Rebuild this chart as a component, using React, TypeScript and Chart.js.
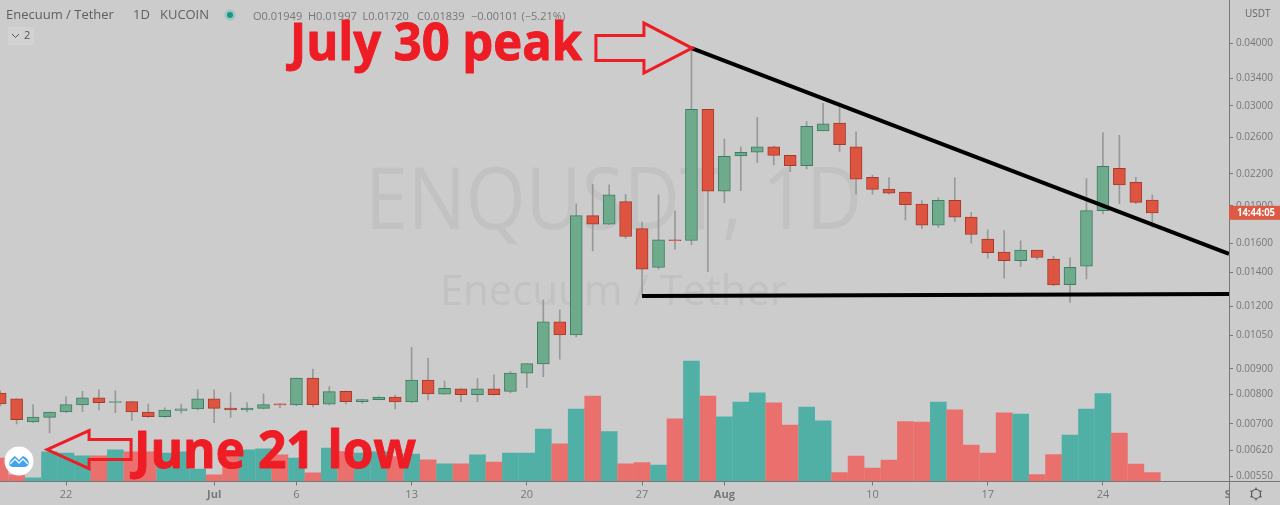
import React, { useEffect, useRef } from "react";
import { Chart, registerables } from "chart.js";

Chart.register(...registerables);

// One entry per day, Jun 18 → Aug 24+; index 0 = Jun 18
const opens = [
  0.00806, 0.00785, 0.00706, 0.00721, 0.00739, 0.00763, 0.00788, 0.00772, 0.00775, 0.00739, 0.00723, 0.00744,
  0.00749, 0.00785, 0.00752, 0.00746, 0.00751, 0.00767, 0.00763, 0.00863, 0.00766, 0.00812, 0.00775, 0.00782,
  0.00791, 0.00774, 0.00855, 0.00802, 0.00822, 0.008, 0.00822, 0.00812, 0.00883, 0.00921, 0.01117, 0.01052,
  0.01816, 0.01745, 0.01936, 0.01711, 0.01432, 0.01625, 0.0162, 0.02955, 0.0203, 0.02385, 0.02427, 0.02489,
  0.02393, 0.02282, 0.02675, 0.02773, 0.02489, 0.02164, 0.02051, 0.02021, 0.01913, 0.01737, 0.01948, 0.01803,
  0.0163, 0.01536, 0.01478, 0.0155, 0.01488, 0.01324, 0.01441, 0.01858, 0.02255, 0.02114, 0.01949,
];
const highs = [
  0.00814, 0.00785, 0.00764, 0.00739, 0.00793, 0.00812, 0.00818, 0.00814, 0.00775, 0.00766, 0.00753, 0.00766,
  0.00818, 0.00818, 0.00808, 0.00771, 0.00803, 0.00767, 0.00863, 0.00899, 0.0083, 0.00814, 0.00782, 0.00792,
  0.00798, 0.00994, 0.00945, 0.00851, 0.00822, 0.00861, 0.00876, 0.00889, 0.00922, 0.01235, 0.01179, 0.01916,
  0.02096, 0.0209, 0.02002, 0.01762, 0.01996, 0.01855, 0.03906, 0.02955, 0.0258, 0.02489, 0.02848, 0.02497,
  0.02393, 0.02791, 0.03037, 0.02976, 0.02663, 0.02187, 0.02158, 0.02021, 0.01945, 0.01969, 0.02158, 0.01842,
  0.01701, 0.01696, 0.01618, 0.0155, 0.01507, 0.01497, 0.02152, 0.02655, 0.02623, 0.02164, 0.01997,
];
const lows = [
  0.0076, 0.007, 0.00704, 0.00671, 0.00737, 0.0074, 0.00746, 0.00737, 0.00711, 0.00721, 0.00721, 0.00735,
  0.00746, 0.00704, 0.00721, 0.00739, 0.00749, 0.00754, 0.0076, 0.00756, 0.00763, 0.00767, 0.00769, 0.00781,
  0.00749, 0.00771, 0.00781, 0.00802, 0.00775, 0.00775, 0.00798, 0.00806, 0.00827, 0.00869, 0.00941, 0.01042,
  0.01545, 0.01741, 0.01636, 0.01263, 0.01421, 0.01557, 0.01587, 0.01405, 0.01927, 0.02036, 0.02314, 0.0229,
  0.02221, 0.02248, 0.02675, 0.02436, 0.02005, 0.02002, 0.02002, 0.0178, 0.01711, 0.01721, 0.01766, 0.016,
  0.01495, 0.01364, 0.01438, 0.01485, 0.01318, 0.0122, 0.01359, 0.01829, 0.01917, 0.01917, 0.0172,
];
const closes = [
  0.00767, 0.00713, 0.00722, 0.00739, 0.00764, 0.00788, 0.00771, 0.00775, 0.00739, 0.00723, 0.00745, 0.0075,
  0.00785, 0.00751, 0.00746, 0.00752, 0.00764, 0.00763, 0.00863, 0.00764, 0.00811, 0.00775, 0.00782, 0.00791,
  0.00774, 0.00855, 0.00803, 0.00823, 0.008, 0.00822, 0.008, 0.00883, 0.00922, 0.01117, 0.01052, 0.01816,
  0.01745, 0.01996, 0.0165, 0.01421, 0.01625, 0.01618, 0.02955, 0.0203, 0.02382, 0.02427, 0.02489, 0.02393,
  0.02282, 0.02733, 0.02765, 0.02512, 0.02145, 0.02048, 0.02013, 0.01909, 0.01737, 0.01948, 0.01803, 0.01665,
  0.01533, 0.01478, 0.0155, 0.01499, 0.01322, 0.01433, 0.01858, 0.02276, 0.0209, 0.01929, 0.01839,
];
const volumes = [
  23.3, 6.7, 3.7, 29.7, 28.3, 25.7, 25.7, 31.7, 29.7, 29.7, 28.3, 29.7,
  12.3, 6.7, 25, 31.7, 32.7, 26.7, 23.3, 8.7, 33.3, 30, 28.3, 29.7,
  25, 27.3, 21.7, 17.7, 17.7, 26.7, 19.3, 28.3, 28.3, 52.3, 37.7, 72.3,
  85.3, 50, 17.7, 19, 16.3, 62.7, 120.3, 85.3, 64.7, 79.3, 88.7, 78.7,
  56.3, 74.3, 60.7, 9, 25.3, 13.3, 21.3, 60, 59.3, 79.3, 71.7, 36.3,
  28.3, 68.7, 67.3, 7, 27, 46.3, 72.3, 88, 48.3, 17.3, 9,
];
const volumeUp = [
  0, 0, 1, 1, 1, 1, 0, 1, 0, 0, 1, 1,
  1, 0, 0, 1, 1, 0, 1, 0, 1, 0, 1, 1,
  0, 1, 0, 1, 0, 1, 0, 1, 1, 1, 0, 1,
  0, 1, 0, 0, 1, 0, 1, 0, 1, 1, 1, 0,
  0, 1, 1, 0, 0, 0, 0, 0, 0, 1, 0, 0,
  0, 0, 1, 0, 0, 1, 1, 1, 0, 0, 0,
];

const xTickDays = [4, 13, 18, 25, 32, 39, 44, 53, 60, 67];
const xTickLabels = ["22", "Jul", "6", "13", "20", "27", "Aug", "10", "17", "24"];
const yTicks = [0.04, 0.034, 0.03, 0.026, 0.022, 0.019, 0.016, 0.014, 0.012, 0.0105, 0.009, 0.008, 0.007, 0.0062, 0.0055];
const ohlcLabels = ["O0.01949", "H0.01997", "L0.01720", "C0.01839", "−0.00101", "(−5.21%)"];

const resistance = [{ x: 42, y: 0.0391 }, { x: 74.66, y: 0.01524 }];
const support = [{ x: 39, y: 0.01257 }, { x: 74.66, y: 0.01268 }];
const peakAnchor = { x: 42.03, y: 0.0391 };
const lowAnchor = { x: 2.85, y: 0.00622 };

const BG = "#cccccc";
const AXIS = "#777777";
const FONT = '"Open Sans", sans-serif';
const RED = "#ee1c25";

const overlay = {
  id: "overlay",
  beforeDatasetsDraw(chart: any) {
    const c = chart.ctx;
    c.save();
    c.fillStyle = "#c2c2c2";
    c.textBaseline = "alphabetic";
    c.textAlign = "left";
    c.font = `86px ${FONT}`;
    c.fillText("ENQUSDT, 1D", 365, 229, 497);
    c.font = `42px ${FONT}`;
    c.fillText("Enecuum / Tether", 440, 305, 347);
    c.restore();
  },
  afterDraw(chart: any) {
    const c = chart.ctx;
    const sx = chart.scales.x;
    const sy = chart.scales.y;
    c.save();
    // full-length axis lines
    c.strokeStyle = AXIS;
    c.lineWidth = 1;
    c.beginPath();
    c.moveTo(1229.5, 0);
    c.lineTo(1229.5, 505);
    c.moveTo(0, 481.5);
    c.lineTo(1280, 481.5);
    c.stroke();

    // clipped next-month label
    c.save();
    c.beginPath();
    c.rect(1200, 482, 29, 23);
    c.clip();
    c.fillStyle = AXIS;
    c.font = `bold 11px ${FONT}`;
    c.textAlign = "center";
    c.textBaseline = "middle";
    c.fillText("Sep", sx.getPixelForValue(75), 495);
    c.restore();

    // current price tag
    const tagY = sy.getPixelForValue(closes[closes.length - 1]);
    c.fillStyle = "#dd5a44";
    c.fillRect(1229, tagY - 7, 51, 14);
    c.fillStyle = "#ffffff";
    c.font = `bold 10.5px ${FONT}`;
    c.textAlign = "left";
    c.textBaseline = "middle";
    c.fillText("14:44:05", 1237, tagY, 38);

    // header
    c.fillStyle = "#5f5f5f";
    c.textBaseline = "middle";
    c.font = `13px ${FONT}`;
    c.fillText("Enecuum / Tether", 6, 15.5, 115);
    c.fillText("1D", 133, 15.5);
    c.fillText("KUCOIN", 160, 15.5, 49);
    c.fillStyle = "rgba(40,170,150,0.25)";
    c.beginPath();
    c.arc(230, 15, 5.5, 0, Math.PI * 2);
    c.fill();
    c.fillStyle = "#129a86";
    c.beginPath();
    c.arc(230, 15, 3, 0, Math.PI * 2);
    c.fill();
    c.fillStyle = "#777777";
    c.font = `11px ${FONT}`;
    const ohlcX = [253, 308, 362.5, 417, 471, 521.5];
    ohlcLabels.forEach((t, i) => c.fillText(t, ohlcX[i], 16.5, i === 5 ? 44 : 50));

    // collapse button
    c.fillStyle = "#d2d2d2";
    c.fillRect(8, 27, 26, 18);
    c.strokeStyle = "#555555";
    c.lineWidth = 1;
    c.beginPath();
    c.moveTo(12, 34);
    c.lineTo(15.5, 37.5);
    c.lineTo(19, 34);
    c.stroke();
    c.fillStyle = "#555555";
    c.font = `11px ${FONT}`;
    c.fillText("2", 24, 36);

    // USDT
    c.fillStyle = "#666666";
    c.font = `10px ${FONT}`;
    c.fillText("USDT", 1245, 14);

    // annotation arrows
    const arrow = (pts: number[][], ox: number, oy: number) => {
      c.strokeStyle = RED;
      c.lineWidth = 3;
      c.lineJoin = "miter";
      c.beginPath();
      pts.forEach(([a, b], i) => (i ? c.lineTo(ox + a, oy + b) : c.moveTo(ox + a, oy + b)));
      c.closePath();
      c.stroke();
    };
    const px = sx.getPixelForValue(peakAnchor.x);
    const py = sy.getPixelForValue(peakAnchor.y);
    arrow([[0, 0], [-48, 25], [-48, 12.5], [-96, 12.5], [-96, -12.5], [-48, -12.5], [-48, -25]], px, py);
    const lx = sx.getPixelForValue(lowAnchor.x);
    const ly = sy.getPixelForValue(lowAnchor.y);
    arrow([[0, 0], [42, -19], [42, -10], [84, -10], [84, 10], [42, 10], [42, 19]], lx, ly);

    // annotation text
    c.fillStyle = RED;
    c.strokeStyle = RED;
    c.lineWidth = 1;
    c.lineJoin = "round";
    c.textAlign = "left";
    c.textBaseline = "alphabetic";
    c.font = `bold 52px ${FONT}`;
    c.fillText("July 30 peak", 290, 60, 292);
    c.strokeText("July 30 peak", 290, 60, 292);
    c.fillText("June 21 low", 134, 468, 282);
    c.strokeText("June 21 low", 134, 468, 282);

    // logo
    c.fillStyle = "#ffffff";
    c.beginPath();
    c.arc(19, 461, 14.5, 0, Math.PI * 2);
    c.fill();
    c.fillStyle = "#3fa4ec";
    c.beginPath();
    c.moveTo(9, 464);
    c.quadraticCurveTo(10, 459, 15, 456);
    c.lineTo(19, 460);
    c.lineTo(23, 456);
    c.quadraticCurveTo(28, 458, 29, 463);
    c.quadraticCurveTo(28, 467, 24, 467);
    c.lineTo(13, 467);
    c.quadraticCurveTo(10, 467, 9, 464);
    c.fill();
    c.strokeStyle = "#ffffff";
    c.lineWidth = 1.3;
    c.beginPath();
    c.moveTo(10, 464);
    c.lineTo(15, 459);
    c.lineTo(19, 463);
    c.lineTo(23, 459);
    c.lineTo(28, 464);
    c.stroke();

    // gear
    c.strokeStyle = "#555555";
    c.lineWidth = 1.2;
    c.beginPath();
    c.arc(1256, 494, 4.5, 0, Math.PI * 2);
    c.stroke();
    for (let i = 0; i < 6; i++) {
      const a = (i * Math.PI) / 3 + Math.PI / 6;
      c.beginPath();
      c.moveTo(1256 + Math.cos(a) * 4.5, 494 + Math.sin(a) * 4.5);
      c.lineTo(1256 + Math.cos(a) * 6.5, 494 + Math.sin(a) * 6.5);
      c.stroke();
    }
    c.restore();
  },
};

export default function App() {
  const ref = useRef<HTMLCanvasElement>(null);
  useEffect(() => {
    document.body.style.margin = "0";
    document.body.style.background = BG;
    const isUp = (i: number) => closes[i] >= opens[i];
    const chart = new Chart(ref.current as HTMLCanvasElement, {
      type: "bar",
      data: {
        datasets: [
          {
            type: "line",
            data: resistance,
            yAxisID: "y",
            order: 0,
            borderColor: "#000000",
            borderWidth: 4,
            pointRadius: 0,
          },
          {
            type: "line",
            data: support,
            yAxisID: "y",
            order: 0,
            borderColor: "#000000",
            borderWidth: 4,
            pointRadius: 0,
          },
          {
            data: opens.map((o, i) => ({ x: i, y: [o, closes[i]] })),
            yAxisID: "y",
            order: 1,
            grouped: false,
            barThickness: 12,
            backgroundColor: opens.map((_, i) => (isUp(i) ? "#6dab8c" : "#dd5540")),
            borderColor: opens.map((_, i) => (isUp(i) ? "#3f7d62" : "#a53a2c")),
            borderWidth: 1,
            borderSkipped: false,
          },
          {
            data: lows.map((l, i) => ({ x: i, y: [l, highs[i]] })),
            yAxisID: "y",
            order: 2,
            grouped: false,
            barThickness: 1,
            backgroundColor: "#999999",
          },
          {
            data: volumes.map((v, i) => ({ x: i, y: v })),
            yAxisID: "vol",
            order: 3,
            grouped: false,
            barThickness: 16,
            backgroundColor: volumeUp.map((u) => (u ? "#50b0a5" : "#ea706e")),
          },
        ],
      } as any,
      options: {
        responsive: false,
        animation: false,
        layout: { padding: 0 },
        plugins: { legend: { display: false }, tooltip: { enabled: false } },
        scales: {
          x: {
            type: "linear",
            min: -0.01,
            max: 74.66,
            offset: false,
            border: { display: false },
            grid: { offset: false, drawOnChartArea: false, tickLength: 4, tickColor: AXIS, drawTicks: true },
            ticks: {
              autoSkip: false,
              maxRotation: 0,
              padding: 3,
              color: AXIS,
              font: (ctx: any) => ({
                family: FONT,
                size: 11,
                weight: ctx.tick && (ctx.tick.value === 13 || ctx.tick.value === 44) ? "bold" : "normal",
              }),
              callback: (v: any) => {
                const i = xTickDays.indexOf(v);
                return i >= 0 ? xTickLabels[i] : "";
              },
            },
            afterBuildTicks: (s: any) => {
              s.ticks = xTickDays.map((value) => ({ value }));
            },
            afterFit: (s: any) => {
              s.height = 23.5;
              s.paddingLeft = 0;
              s.paddingRight = 0;
            },
          },
          y: {
            type: "logarithmic",
            position: "right",
            min: 0.005375,
            max: 0.04872,
            border: { display: false },
            grid: { drawOnChartArea: false, tickLength: 4, tickColor: AXIS },
            ticks: {
              autoSkip: false,
              padding: 3,
              color: AXIS,
              font: { family: FONT, size: 10 },
              callback: (v: any) => Number(v).toFixed(5),
            },
            afterBuildTicks: (s: any) => {
              s.ticks = yTicks.map((value) => ({ value }));
            },
            afterFit: (s: any) => {
              s.width = 51;
              s.paddingTop = 0;
              s.paddingBottom = 0;
            },
          } as any,
          vol: { type: "linear", display: false, min: 0, max: 481.5 },
        },
      } as any,
      plugins: [overlay as any],
    });
    return () => chart.destroy();
  }, []);
  return (
    <div style={{ position: "absolute", left: 0, top: 0, width: 1280, height: 505, overflow: "hidden", background: BG }}>
      <canvas ref={ref} width={1280} height={505} style={{ display: "block" }} />
    </div>
  );
}
